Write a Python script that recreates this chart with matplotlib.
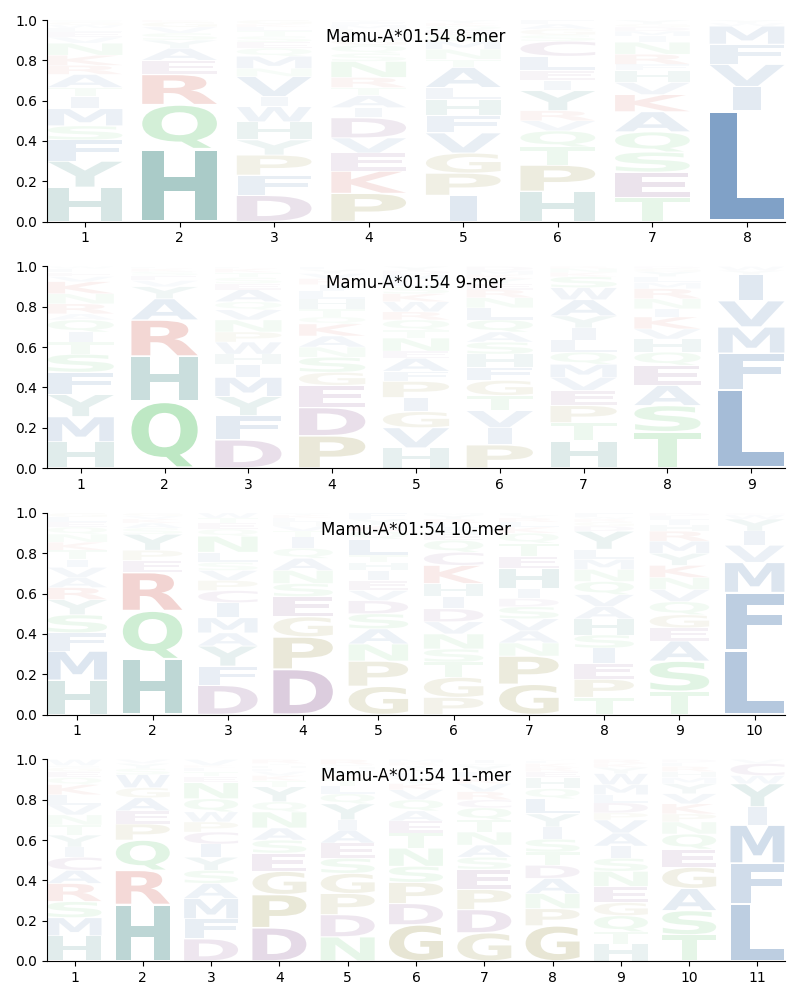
import matplotlib
matplotlib.use("Agg")
import matplotlib.pyplot as plt
from matplotlib.textpath import TextPath
from matplotlib.patches import PathPatch
from matplotlib.font_manager import FontProperties
from matplotlib.transforms import Affine2D

allele = "Mamu-A*01:54"
lengths = [8, 9, 10, 11]

# letters per position, bottom to top, with their heights
mer8_letters = ["HYFSMITARKNVELWGQ", "HQREAYSVGK", "DFPYHWIVNMQESTLKG", "PKEVDIATRNSQGLHMFY",
                "IPGVFHLATNMSEQKY", "HPTQVRYIELCSGAF", "TESQAKVHFRNIMDGY", "LIVFMWY"]
mer8_heights = [
    [.17, .13, .105, .07, .085, .06, .045, .065, .045, .05, .06, .03, .025, .02, .015, .015, .01],
    [.36, .22, .15, .07, .06, .04, .035, .03, .025, .01],
    [.13, .10, .10, .075, .09, .075, .05, .10, .04, .06, .04, .03, .03, .025, .02, .015, .02],
    [.14, .11, .09, .075, .10, .05, .06, .04, .05, .08, .04, .04, .03, .03, .02, .02, .015, .01],
    [.13, .11, .10, .10, .085, .08, .06, .10, .04, .05, .04, .03, .025, .02, .015, .015],
    [.15, .13, .09, .08, .05, .05, .10, .05, .05, .07, .075, .03, .03, .025, .02],
    [.12, .125, .10, .10, .10, .085, .06, .06, .03, .05, .06, .03, .025, .02, .015, .02],
    [.55, .12, .11, .10, .09, .015, .015],
]

mer9_letters = ["HMYFSTIQARNKVELW", "QHRAYVESKL", "DFYMIHWPNVQAESTKL", "PDEGSNAKQTHLIRVYF",
                "HVGIPFAENTQRWKSLMDY", "PIVTGFHSAQLNREYKMD", "HTPEVMQLIYAWSKNR",
                "TSAEQHVKINRMLYGD", "LFMVIYW"]
mer9_heights = [
    [.13, .125, .11, .11, .09, .06, .05, .06, .03, .05, .05, .06, .025, .02, .02, .01],
    [.33, .225, .18, .105, .06, .03, .025, .02, .015, .01],
    [.14, .12, .095, .095, .065, .05, .06, .05, .06, .05, .04, .06, .03, .03, .025, .02, .01],
    [.16, .14, .11, .065, .075, .05, .055, .06, .035, .04, .05, .04, .03, .03, .025, .02, .015],
    [.10, .10, .08, .07, .08, .05, .065, .035, .065, .04, .05, .04, .05, .04, .035, .03, .03, .02, .02],
    [.115, .085, .085, .075, .075, .065, .065, .06, .05, .06, .06, .05, .04, .03, .025, .02, .02, .02],
    [.135, .09, .085, .075, .065, .065, .06, .06, .06, .06, .08, .06, .055, .02, .02, .01],
    [.18, .13, .10, .10, .065, .065, .05, .06, .04, .05, .05, .03, .03, .025, .015, .01],
    [.39, .18, .13, .13, .13, .02, .02],
]

mer10_letters = ["HMFSYRAVITKNQELG", "HQREPYSAKVG", "DFYAMICPVSLNQETW", "DPGESNAQITVHLKY",
                 "GPNASDVEIHTLQKYF", "PGTSNVDIHKCQEALRYM", "GPNAVSDIHETQKLRYF",
                 "TPEISHAVQNMLYDGRWF", "TSAEGQVNKYMRHILD", "LFMVIYWC"]
mer10_heights = [
    [.17, .145, .09, .09, .075, .06, .05, .05, .04, .045, .04, .04, .035, .025, .025, .02],
    [.275, .24, .19, .06, .05, .08, .03, .025, .02, .015, .015],
    [.145, .095, .10, .065, .075, .075, .06, .05, .05, .04, .05, .08, .035, .03, .025, .025],
    [.225, .16, .10, .10, .065, .065, .06, .05, .055, .03, .025, .02, .02, .015, .01],
    [.14, .125, .085, .075, .075, .065, .05, .05, .05, .04, .035, .08, .04, .03, .03, .03],
    [.085, .10, .075, .065, .075, .06, .065, .06, .065, .09, .065, .06, .03, .03, .025, .02, .02, .01],
    [.15, .14, .065, .06, .06, .06, .04, .05, .10, .06, .065, .05, .03, .025, .02, .015, .01],
    [.085, .09, .08, .075, .065, .08, .06, .06, .065, .06, .05, .05, .09, .025, .02, .015, .01, .02],
    [.115, .15, .10, .065, .065, .065, .06, .06, .06, .06, .06, .05, .03, .025, .02, .015],
    [.32, .285, .15, .085, .07, .06, .02, .01],
]

mer11_letters = ["HMSRACIYTNVLKQEGFW", "HRQPEAGWSYV", "DFMASYICPWQNETLKV", "DPGESANQYTKVLHIR",
                 "NDPGSEAIYQLTKVHFR", "GDPSNTEAQVKYLHIRM", "GDPESANTQCRVKLYHI",
                 "GPNADTSIYLQHERKFV", "HTQGENSIAVPDLMWYKR", "TSAGEQNPKVYMHRLD", "LFMIYWCV"]
mer11_heights = [
    [.125, .09, .08, .09, .065, .065, .05, .06, .05, .05, .05, .05, .05, .035, .03, .02, .01, .03],
    [.28, .17, .15, .08, .065, .065, .05, .065, .03, .025, .02],
    [.11, .10, .10, .075, .065, .065, .065, .06, .05, .05, .065, .08, .03, .025, .02, .01, .03],
    [.165, .165, .115, .09, .065, .06, .08, .05, .075, .03, .025, .02, .015, .015, .01, .02],
    [.12, .11, .105, .10, .075, .075, .065, .05, .08, .05, .04, .03, .025, .025, .015, .01, .025],
    [.18, .105, .105, .08, .09, .075, .06, .05, .055, .05, .03, .03, .025, .02, .015, .015, .015],
    [.14, .115, .10, .10, .06, .06, .065, .06, .06, .04, .04, .04, .03, .03, .03, .01, .02],
    [.175, .085, .075, .075, .065, .065, .065, .06, .065, .075, .05, .055, .03, .02, .02, .015, .005],
    [.085, .06, .08, .065, .08, .075, .065, .06, .065, .065, .035, .05, .04, .05, .055, .03, .02, .02],
    [.13, .12, .11, .105, .09, .075, .06, .04, .05, .05, .05, .03, .03, .025, .02, .015],
    [.285, .20, .19, .09, .115, .04, .06, .02],
]

all_letters = [mer8_letters, mer9_letters, mer10_letters, mer11_letters]
all_heights = [mer8_heights, mer9_heights, mer10_heights, mer11_heights]

# amino acid groups and colours
groups = {
    "AVLIMFW": (101/255, 141/255, 187/255),
    "HY": (98/255, 159/255, 155/255),
    "QSTN": (124/255, 209/255, 136/255),
    "RK": (212/255, 108/255, 98/255),
    "DEC": (152/255, 108/255, 158/255),
    "PG": (168/255, 162/255, 96/255),
}
aa_color = {}
for grp, col in groups.items():
    for aa in grp:
        aa_color[aa] = col

font = FontProperties(family="DejaVu Sans", weight="bold")
glyphs = {}


def get_glyph(c):
    if c not in glyphs:
        path = TextPath((0, 0), c, size=1, prop=font)
        glyphs[c] = (path, path.get_extents())
    return glyphs[c]


def draw_letter(ax, c, x, y0, h, width=0.79, vpad=0.05):
    path, ext = get_glyph(c)
    e_w = get_glyph("E")[1].width
    sx = min(width / ext.width, width / e_w)
    gw = ext.width * sx
    gh = h * (1 - vpad)
    sy = gh / ext.height
    tr = Affine2D().translate(-ext.x0, -ext.y0).scale(sx, sy).translate(x - gw / 2, y0 + h * vpad / 2)
    alpha = min(1.0, 1.5 * h)
    patch = PathPatch(tr.transform_path(path), facecolor=aa_color[c], edgecolor="none",
                      alpha=alpha, lw=0)
    ax.add_patch(patch)


fig, axes = plt.subplots(4, 1, figsize=(8, 10), dpi=100)
fig.subplots_adjust(left=0.059, right=0.981, top=0.98, bottom=0.039, hspace=0.223)

for ax, n, letters, heights in zip(axes, lengths, all_letters, all_heights):
    for i in range(n):
        y = 0.0
        for c, h in zip(letters[i], heights[i]):
            draw_letter(ax, c, i + 1, y, h)
            y += h
    ax.set_xlim(0.6, n + 0.4)
    ax.set_ylim(0, 1)
    ax.set_xticks(range(1, n + 1))
    ax.set_yticks([0, 0.2, 0.4, 0.6, 0.8, 1.0])
    ax.spines["top"].set_visible(False)
    ax.spines["right"].set_visible(False)
    ax.set_title(f"{allele} {n}-mer", y=0.85)

fig.savefig("out.png")
plt.close()
